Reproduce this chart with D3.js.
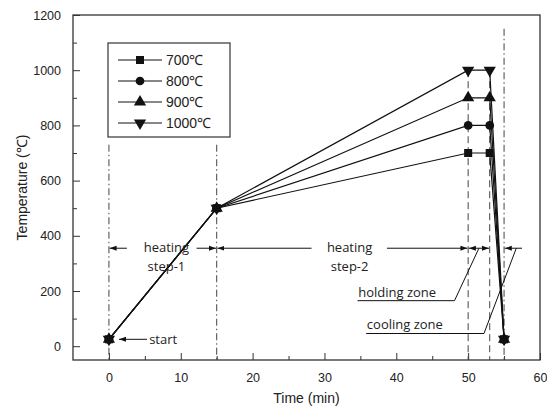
<!DOCTYPE html>
<html>
<head>
<meta charset="utf-8">
<script src="https://cdn.jsdelivr.net/npm/d3@7"></script>
<style>
  body { margin: 0; background: #fff; }
  text { font-family: "Liberation Sans", Arial, sans-serif; fill: #222; }
  .note { font-family: "Open Sans", "Noto Sans", sans-serif; font-size: 13px; }
</style>
</head>
<body>
<svg id="chart"></svg>
<script>
const width = 547;
const height = 412;
const margin = { top: 15, right: 7, bottom: 52, left: 73 };

// time points of the heat-treatment schedule (min)
const times = [0, 15, 50, 53, 55];
const labels = ["700℃", "800℃", "900℃", "1000℃"];
const temps700 = [25, 500, 700, 700, 25];
const temps800 = [25, 500, 800, 800, 25];
const temps900 = [25, 500, 900, 900, 25];
const temps1000 = [25, 500, 1000, 1000, 25];
const symbols = ["square", "circle", "up", "down"];

const xTicks = [0, 10, 20, 30, 40, 50, 60];
const xMinor = [5, 15, 25, 35, 45, 55];
const yTicks = [0, 200, 400, 600, 800, 1000, 1200];
const yMinor = [100, 300, 500, 700, 900, 1100];

const series = [temps700, temps800, temps900, temps1000].map((vals, i) => ({
    label: labels[i],
    symbol: symbols[i],
    points: vals.map((v, j) => ({ t: times[j], v }))
}));

const svg = d3.select("#chart")
    .attr("width", width)
    .attr("height", height);

const x = d3.scaleLinear().domain([-5, 60]).range([margin.left, width - margin.right]);
const y = d3.scaleLinear().domain([-50, 1200]).range([height - margin.bottom, margin.top]);

// frame
svg.append("rect")
    .attr("x", x(-5)).attr("y", y(1200))
    .attr("width", x(60) - x(-5)).attr("height", y(-50) - y(1200))
    .attr("fill", "none").attr("stroke", "#333").attr("stroke-width", 1.3);

// axes with inward ticks
svg.append("g")
    .attr("transform", `translate(0,${y(-50)})`)
    .call(d3.axisBottom(x).tickValues(xTicks).tickSize(-7).tickPadding(13).tickFormat(d3.format("d")));
svg.append("g")
    .attr("transform", `translate(0,${y(-50)})`)
    .call(d3.axisBottom(x).tickValues(xMinor).tickSize(-4).tickFormat(""));
svg.append("g")
    .attr("transform", `translate(${x(-5)},0)`)
    .call(d3.axisLeft(y).tickValues(yTicks).tickSize(-7).tickPadding(12).tickFormat(d3.format("d")));
svg.append("g")
    .attr("transform", `translate(${x(-5)},0)`)
    .call(d3.axisLeft(y).tickValues(yMinor).tickSize(-4).tickFormat(""));
svg.selectAll(".domain").remove();
svg.selectAll(".tick line").attr("stroke", "#333");
svg.selectAll(".tick text").attr("font-size", 12.5).attr("fill", "#222")
    .attr("font-family", "Liberation Sans, Arial, sans-serif");

// axis titles
svg.append("text")
    .attr("x", x(27.5)).attr("y", 403)
    .attr("text-anchor", "middle").attr("font-size", 14)
    .text("Time (min)");
svg.append("text")
    .attr("transform", `translate(27,${y(575)}) rotate(-90)`)
    .attr("text-anchor", "middle").attr("font-size", 14)
    .text("Temperature (℃)");

// stage boundary lines
const guides = [
    { t: 0, top: 730, dash: "7,3,1.5,3" },
    { t: 15, top: 730, dash: "7,3,1.5,3" },
    { t: 50, top: 1000, dash: "7,4" },
    { t: 53, top: 1000, dash: "7,4" },
    { t: 55, top: 1150, dash: "7,3,1.5,3" }
];
svg.append("g").selectAll("line")
    .data(guides)
    .enter()
    .append("line")
    .attr("x1", d => x(d.t)).attr("x2", d => x(d.t))
    .attr("y1", d => y(d.top)).attr("y2", y(-50))
    .attr("stroke", "#444").attr("stroke-width", 1)
    .attr("stroke-dasharray", d => d.dash);

// series lines
const line = d3.line().x(d => x(d.t)).y(d => y(d.v));
svg.append("g").selectAll("path")
    .data(series)
    .enter()
    .append("path")
    .attr("d", d => line(d.points))
    .attr("fill", "none").attr("stroke", "#111").attr("stroke-width", 1.2);

// marker shapes
const symType = {
    square: d3.symbolSquare,
    circle: d3.symbolCircle,
    up: d3.symbolTriangle,
    down: d3.symbolTriangle
};
function marker(sel, s) {
    sel.attr("d", d3.symbol().type(symType[s]).size(s === "circle" ? 60 : 65)())
        .attr("fill", "#111");
}

series.forEach(s => {
    svg.append("g").selectAll("path")
        .data(s.points)
        .enter()
        .append("path")
        .attr("transform", d => `translate(${x(d.t)},${y(d.v)})${s.symbol === "down" ? " rotate(180)" : ""}`)
        .call(marker, s.symbol);
});

// legend
const legend = svg.append("g");
legend.append("rect")
    .attr("x", 108).attr("y", 43).attr("width", 122).attr("height", 94)
    .attr("fill", "#fff").attr("stroke", "#333").attr("stroke-width", 1.2);
series.forEach((s, i) => {
    const ly = 60 + i * 21;
    legend.append("line")
        .attr("x1", 118).attr("x2", 162).attr("y1", ly).attr("y2", ly)
        .attr("stroke", "#111").attr("stroke-width", 1.2);
    legend.append("path")
        .attr("transform", `translate(140,${ly})${s.symbol === "down" ? " rotate(180)" : ""}`)
        .call(marker, s.symbol);
    legend.append("text")
        .attr("x", 166).attr("y", ly + 5)
        .attr("font-size", 14)
        .text(s.label);
});

// annotations
const ann = svg.append("g");
const arrowY = 355;
svg.append("defs").append("marker")
    .attr("id", "head")
    .attr("viewBox", "0 0 10 10")
    .attr("refX", 10).attr("refY", 5)
    .attr("markerWidth", 7).attr("markerHeight", 7)
    .attr("orient", "auto")
    .append("path").attr("d", "M0,1.5 L10,5 L0,8.5 Z").attr("fill", "#111");

function arrow(t1, t2, v1, v2) {
    ann.append("line")
        .attr("x1", x(t1)).attr("y1", y(v1))
        .attr("x2", x(t2)).attr("y2", y(v2 === undefined ? v1 : v2))
        .attr("stroke", "#111").attr("stroke-width", 1)
        .attr("marker-end", "url(#head)");
}
function seg(t1, v1, t2, v2) {
    ann.append("line")
        .attr("x1", x(t1)).attr("y1", y(v1))
        .attr("x2", x(t2)).attr("y2", y(v2))
        .attr("stroke", "#111").attr("stroke-width", 1);
}
function note(t, v, txt, anchor) {
    ann.append("text")
        .attr("class", "note")
        .attr("x", x(t)).attr("y", y(v))
        .attr("text-anchor", anchor || "middle")
        .text(txt);
}

// heating step-1
arrow(2.5, 0.1, arrowY);
arrow(12.2, 14.9, arrowY);
note(8, arrowY - 15, "heating");
note(8, arrowY - 82, "step-1");
// heating step-2
arrow(28.2, 15.1, arrowY);
arrow(38.7, 49.9, arrowY);
note(33.5, arrowY - 15, "heating");
note(33.5, arrowY - 82, "step-2");
// holding zone
arrow(51.5, 50.1, arrowY);
arrow(51.5, 52.9, arrowY);
seg(34.6, 165, 48.1, 165);
seg(48.1, 165, 51.5, arrowY);
note(34.7, 180, "holding zone", "start");
// cooling zone
arrow(57.5, 55.1, arrowY);
seg(35.8, 46, 52.2, 46);
seg(52.2, 46, 56.7, arrowY);
note(35.9, 61, "cooling zone", "start");
// start
arrow(5.3, 1.4, 25);
note(5.6, 8, "start", "start");
</script>
</body>
</html>
